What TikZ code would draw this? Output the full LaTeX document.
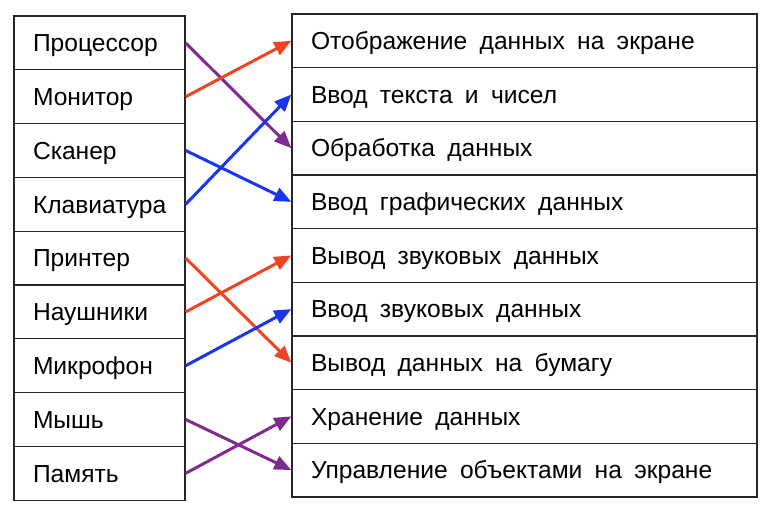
\documentclass[tikz,border=0pt]{standalone}
\usepackage{fontspec}
\setmainfont{Liberation Sans}
\usepackage{xcolor}
\usetikzlibrary{arrows.meta}

\definecolor{lila}{HTML}{7E2A8E}
\definecolor{rosso}{HTML}{EE4422}
\definecolor{blu}{HTML}{1A35F0}

\begin{document}
\begin{tikzpicture}[
  cella/.style={draw=black!85, line width=0.75pt, rectangle, inner xsep=0.38cm, inner ysep=0pt,
    text height=0.35cm, text depth=0pt, font=\fontsize{14}{16}\selectfont,
    execute at begin node={\spaceskip=0.5em plus 0.1em\relax}},
  sx/.style={cella, minimum height=1.076cm, text width=2.66cm},
  dx/.style={cella, minimum height=1.073cm, text width=8.54cm},
  freccia/.style={line width=1.7pt, -{Triangle[length=0.34cm, width=0.28cm]}}
]
\useasboundingbox (0,0) rectangle (15.48,10.22);

% colonna dispositivi
\node[sx] (proc) at (1.99,9.362) {Процессор};
\node[sx] (mon) at (1.99,8.286) {Монитор};
\node[sx] (scan) at (1.99,7.21) {Сканер};
\node[sx] (tast) at (1.99,6.134) {Клавиатура};
\node[sx] (stamp) at (1.99,5.058) {Принтер};
\node[sx] (cuff) at (1.99,3.982) {Наушники};
\node[sx] (micro) at (1.99,2.906) {Микрофон};
\node[sx] (mouse) at (1.99,1.83) {Мышь};
\node[sx] (mem) at (1.99,0.754) {Память};

% colonna funzioni
\node[dx] (schermo) at (10.49,9.404) {Отображение данных на экране};
\node[dx] (testo) at (10.49,8.33) {Ввод текста и чисел};
\node[dx] (elab) at (10.49,7.257) {Обработка данных};
\node[dx] (grafica) at (10.49,6.184) {Ввод графических данных};
\node[dx] (audioout) at (10.49,5.111) {Вывод звуковых данных};
\node[dx] (audioin) at (10.49,4.038) {Ввод звуковых данных};
\node[dx] (carta) at (10.49,2.965) {Вывод данных на бумагу};
\node[dx] (archivio) at (10.49,1.892) {Хранение данных};
\node[dx] (oggetti) at (10.49,0.819) {Управление объектами на экране};

% collegamenti
\draw[freccia, lila] (proc.east) -- (elab.west);
\draw[freccia, rosso] (mon.east) -- (schermo.west);
\draw[freccia, blu] (scan.east) -- (grafica.west);
\draw[freccia, blu] (tast.east) -- (testo.west);
\draw[freccia, rosso] (stamp.east) -- (carta.west);
\draw[freccia, rosso] (cuff.east) -- (audioout.west);
\draw[freccia, blu] (micro.east) -- (audioin.west);
\draw[freccia, lila] (mouse.east) -- (oggetti.west);
\draw[freccia, lila] (mem.east) -- (archivio.west);

\end{tikzpicture}
\end{document}
